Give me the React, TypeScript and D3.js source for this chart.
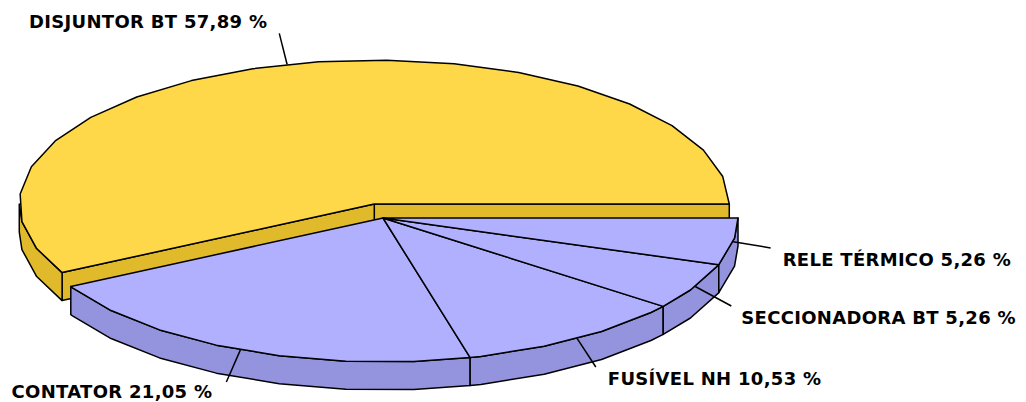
import React from 'react';
import * as d3 from 'd3';

const categories = ['DISJUNTOR BT', 'CONTATOR', 'FUSÍVEL NH', 'SECCIONADORA BT', 'RELE TÉRMICO'];
const values = [57.89, 21.05, 10.53, 5.26, 5.26];
const valueLabels = ['57,89 %', '21,05 %', '10,53 %', '5,26 %', '5,26 %'];
const topColors = ['#FFD84A', '#B0B0FF', '#B0B0FF', '#B0B0FF', '#B0B0FF'];
const sideColors = ['#E0BA2A', '#9494DE', '#9494DE', '#9494DE', '#9494DE'];
const exploded = [true, false, false, false, false];

// layout
const W = 1026, H = 402;
const CX = 383, CY = 218, RX = 355, RY = 144, DEPTH = 28;
const EXPLODE = 0.1;
const STEP = (11 * Math.PI) / 180;
const leaderLen = [32, 35, 34, 41, 38];
const labelOffset: [number, number, 'start' | 'end'][] = [
  [-12, -5, 'end'],
  [-14, 16, 'end'],
  [12, 18, 'start'],
  [10, 18, 'start'],
  [12, 18, 'start'],
];

type Slice = { i: number; a0: number; a1: number; cx: number; cy: number };

function pt(s: { cx: number; cy: number }, a: number, z = 0): [number, number] {
  return [s.cx + RX * Math.cos(a), s.cy - RY * Math.sin(a) + z];
}

function arcPts(s: Slice, a0: number, a1: number, z = 0): [number, number][] {
  const out: [number, number][] = [pt(s, a0, z)];
  let a = Math.ceil(a0 / STEP + 1e-6) * STEP;
  while (a < a1 - 1e-6) {
    out.push(pt(s, a, z));
    a += STEP;
  }
  out.push(pt(s, a1, z));
  return out;
}

const line = d3.line<[number, number]>();

export default function App() {
  const pie = d3
    .pie<number>()
    .sort(null)
    .startAngle(0)
    .endAngle(2 * Math.PI)
    .value((d) => d);
  const arcs = pie(values);
  const slices: Slice[] = arcs.map((a, i) => {
    const mid = (a.startAngle + a.endAngle) / 2;
    const f = exploded[i] ? EXPLODE : 0;
    return {
      i,
      a0: a.startAngle,
      a1: a.endAngle,
      cx: CX + f * RX * Math.cos(mid),
      cy: CY - f * RY * Math.sin(mid),
    };
  });

  const stroke = { stroke: '#000', strokeWidth: 1.5, strokeLinejoin: 'round' as const };

  const wall = (s: Slice) => {
    const v0 = Math.max(s.a0, Math.PI);
    const v1 = Math.min(s.a1, 2 * Math.PI);
    if (v1 <= v0) return null;
    const top = arcPts(s, v0, v1, 0);
    const bot = arcPts(s, v0, v1, DEPTH).reverse();
    return <path key={'w' + s.i} d={line([...top, ...bot])! + 'Z'} fill={sideColors[s.i]} {...stroke} />;
  };

  const faces = (s: Slice) => {
    const out: React.ReactNode[] = [];
    const c: [number, number] = [s.cx, s.cy];
    const cb: [number, number] = [s.cx, s.cy + DEPTH];
    if (Math.cos(s.a0) > 0) {
      const p = pt(s, s.a0), pb = pt(s, s.a0, DEPTH);
      out.push(<path key={'f0' + s.i} d={line([c, p, pb, cb])! + 'Z'} fill={sideColors[s.i]} {...stroke} />);
    }
    if (Math.cos(s.a1) < 0) {
      const p = pt(s, s.a1), pb = pt(s, s.a1, DEPTH);
      out.push(<path key={'f1' + s.i} d={line([c, p, pb, cb])! + 'Z'} fill={sideColors[s.i]} {...stroke} />);
    }
    return out;
  };

  const top = (s: Slice) => {
    const pts: [number, number][] = [[s.cx, s.cy], ...arcPts(s, s.a0, s.a1, 0)];
    return <path key={'t' + s.i} d={line(pts)! + 'Z'} fill={topColors[s.i]} {...stroke} />;
  };

  const back = slices.filter((s) => exploded[s.i]);
  const front = slices.filter((s) => !exploded[s.i]);

  return (
    <svg width={W} height={H} style={{ position: 'absolute', left: 0, top: 0, background: '#fff' }}>
      {back.map((s) => (
        <g key={'b' + s.i}>
          {faces(s)}
          {wall(s)}
          {top(s)}
        </g>
      ))}
      {front.map((s) => wall(s))}
      {front.map((s) => top(s))}
      {slices.map((s) => {
        const mid = (s.a0 + s.a1) / 2;
        const [x0, y0] = pt(s, mid);
        const L = leaderLen[s.i];
        const x1 = x0 + L * Math.cos(mid);
        const y1 = y0 - L * Math.sin(mid);
        const [dx, dy, anchor] = labelOffset[s.i];
        return (
          <g key={'l' + s.i}>
            <line x1={x0} y1={y0} x2={x1} y2={y1} stroke="#000" strokeWidth={1.5} />
            <text
              x={x1 + dx}
              y={y1 + dy}
              textAnchor={anchor}
              fontFamily="'DejaVu Sans', Verdana, sans-serif"
              fontWeight="bold"
              fontSize={18}
              letterSpacing={0.3}
              fill="#000"
            >
              {categories[s.i] + ' ' + valueLabels[s.i]}
            </text>
          </g>
        );
      })}
    </svg>
  );
}
